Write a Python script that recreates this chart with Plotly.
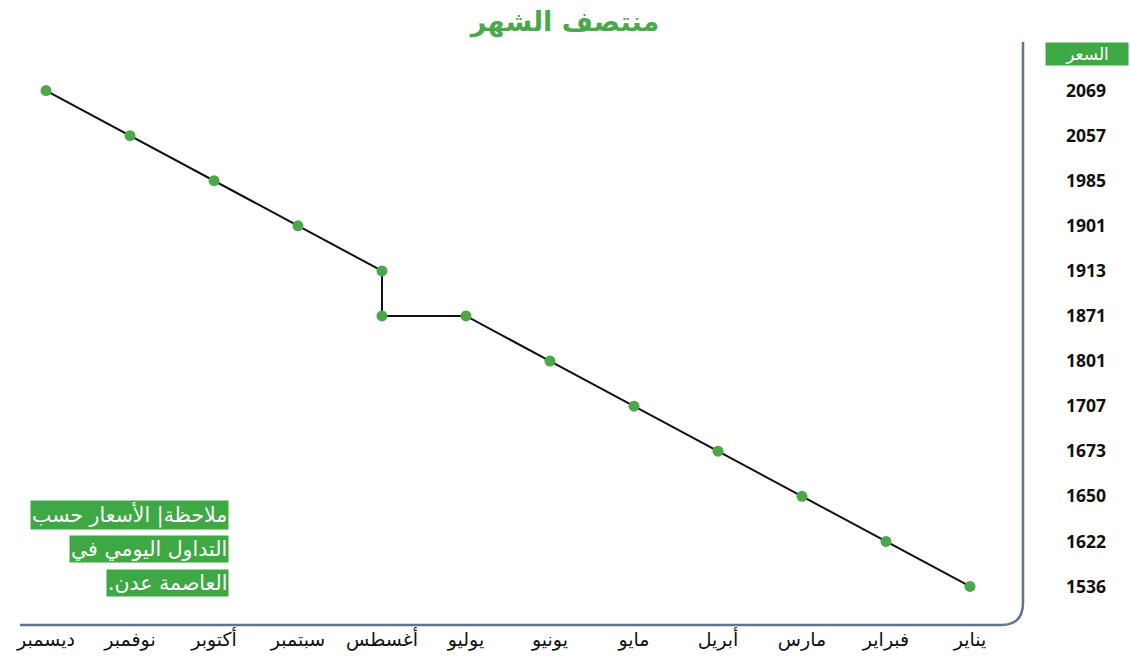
import plotly.graph_objects as go

# Months in calendar order (January first; displayed right-to-left)
months = ["يناير", "فبراير", "مارس", "أبريل", "مايو", "يونيو",
          "يوليو", "أغسطس", "سبتمبر", "أكتوبر", "نوفمبر", "ديسمبر"]

# Price labels of the right-hand axis, bottom to top
price_labels = ["1536", "1622", "1650", "1673", "1707", "1801",
                "1871", "1913", "1901", "1985", "2057", "2069"]

# Line path as drawn (December -> January), August has two points
path_months = ["ديسمبر", "نوفمبر", "أكتوبر", "سبتمبر", "أغسطس", "أغسطس",
               "يوليو", "يونيو", "مايو", "أبريل", "مارس", "فبراير", "يناير"]
path_prices = ["2069", "2057", "1985", "1901", "1913", "1871",
               "1871", "1801", "1707", "1673", "1650", "1622", "1536"]

title_text = "منتصف الشهر"
axis_title = "السعر"
note_lines = ["ملاحظة| الأسعار حسب", "التداول اليومي في", "العاصمة عدن.\u200f"]

GREEN = "#4aa84a"
BOX_GREEN = "#3ea845"
AXIS_COL = "#61748c"
AR_FONT = "DejaVu Sans"

fig = go.Figure()
fig.add_trace(go.Scatter(
    x=path_months, y=path_prices, mode="lines+markers",
    line=dict(color="#111111", width=2),
    marker=dict(color=GREEN, size=11),
    hoverinfo="skip", showlegend=False,
))

# plot area in pixels: x 4..1012, y 68..609
L, R, T, B = 4, 118, 68, 53
W, H = 1130, 662
pw, ph = W - L - R, H - T - B

def px(xp):
    return (xp - L) / pw

def py(yp):
    return 1 - (yp - T) / ph

fig.update_layout(
    width=W, height=H,
    margin=dict(l=L, r=R, t=T, b=B, autoexpand=False),
    paper_bgcolor="white", plot_bgcolor="white",
    title=dict(text=title_text, x=0.5, xref="container", xanchor="center",
               y=1 - 22 / H, yref="container", yanchor="middle",
               font=dict(family=AR_FONT, size=27, color=GREEN, weight="bold")),
    xaxis=dict(type="category", categoryorder="array", categoryarray=months,
               range=[11.5, -0.5], showgrid=False, zeroline=False,
               showline=False, ticks="", ticklabelstandoff=17, automargin=False,
               tickfont=dict(family=AR_FONT, size=19, color="#111111")),
    yaxis=dict(type="category", categoryorder="array", categoryarray=price_labels,
               range=[-0.5, 11.5], side="right", showgrid=False, zeroline=False,
               showline=False, ticks="", ticklabelstandoff=53, automargin=False,
               tickfont=dict(family="Open Sans", size=17.5, color="#111111", weight="bold")),
)

# Frame: vertical line on the right with rounded bottom corner, then horizontal line
x_v = 1023
y_h = 625
r = 22
path = (f"M {px(x_v)},{py(42)} L {px(x_v)},{py(y_h - r)} "
        f"Q {px(x_v)},{py(y_h)} {px(x_v - r)},{py(y_h)} L {px(20)},{py(y_h)}")
fig.add_shape(type="path", path=path, xref="paper", yref="paper",
              line=dict(color=AXIS_COL, width=2.5))

# Axis title box
fig.add_annotation(text=axis_title, xref="paper", yref="paper",
                   x=px(1087), y=py(54), xanchor="center", yanchor="middle",
                   showarrow=False, bgcolor=BOX_GREEN, borderpad=1,
                   width=80, height=20,
                   font=dict(family=AR_FONT, size=17, color="white"))

# Note boxes
for i, t in enumerate(note_lines):
    fig.add_annotation(text=t, xref="paper", yref="paper",
                       x=px(229), y=py(515 + 34 * i), xanchor="right", yanchor="middle",
                       showarrow=False, bgcolor=BOX_GREEN, borderpad=1,
                       font=dict(family=AR_FONT, size=20.5, color="white"))

fig.write_html("out.html", config={"displayModeBar": False},
               post_script="document.body.style.margin='0';")
